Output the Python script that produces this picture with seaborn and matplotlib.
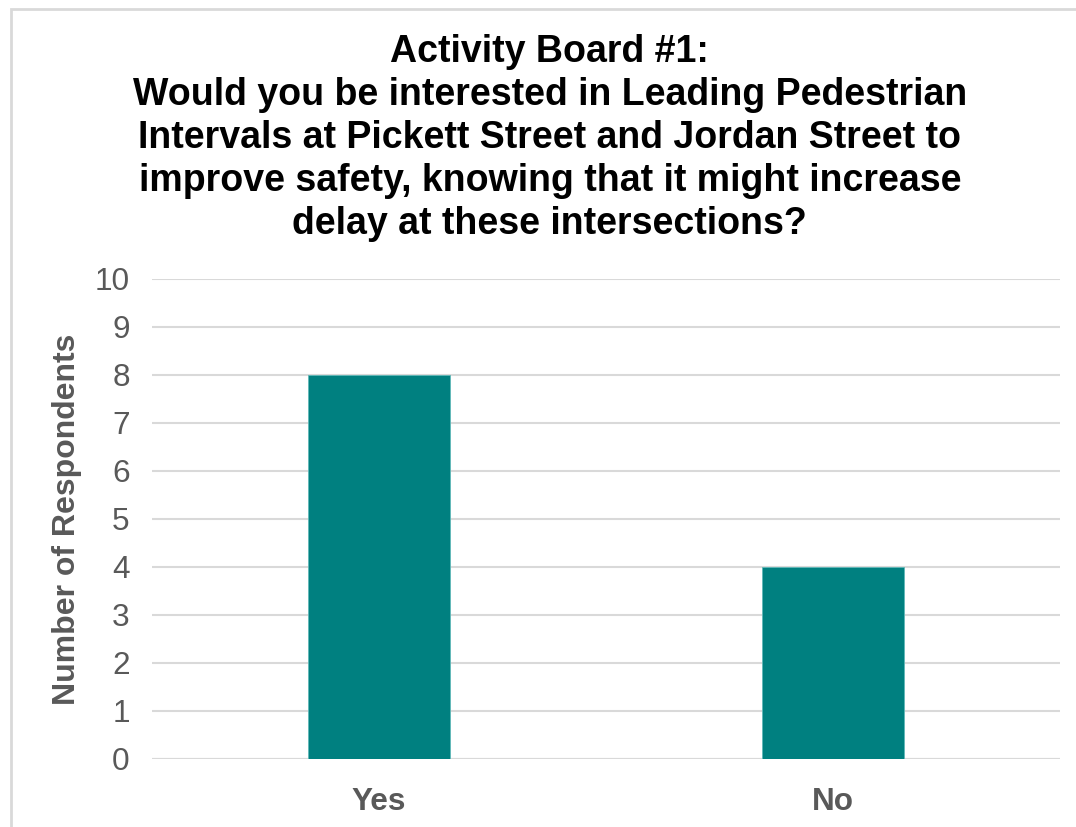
import matplotlib
matplotlib.use("Agg")
import matplotlib.pyplot as plt
from matplotlib.patches import Rectangle
import seaborn as sns
import pandas as pd

# chart data
answers = ["Yes", "No"]
respondents = [8, 4]
y_ticks = list(range(0, 11))

title = ("Activity Board #1:\n"
         "Would you be interested in Leading Pedestrian\n"
         "Intervals at Pickett Street and Jordan Street to\n"
         "improve safety, knowing that it might increase\n"
         "delay at these intersections?")

sns.set_theme(style="white")
plt.rcParams['font.family'] = ['Liberation Sans', 'DejaVu Sans']

df = pd.DataFrame({"answer": answers, "count": respondents})

fig = plt.figure(figsize=(10.76, 8.27), dpi=100)
ax = fig.add_axes([152/1076, 1 - 759/827, (1060 - 152)/1076, (759 - 279)/827])

sns.barplot(data=df, x="answer", y="count", color="#008080", width=0.313,
            saturation=1, edgecolor="#5fb8b8", linewidth=0.6, ax=ax, zorder=3)

ax.set_xlim(-0.5, 1.5)
ax.set_ylim(0, 10)
ax.set_yticks(y_ticks)
ax.yaxis.grid(True, color="#d9d9d9", linewidth=1.5, zorder=0)
ax.xaxis.grid(False)
for s in ax.spines.values():
    s.set_visible(False)
ax.axhline(0, color="#d9d9d9", linewidth=1.5, zorder=1)

ax.tick_params(axis="y", labelsize=22.7, labelcolor="#595959", length=0, pad=16)
ax.tick_params(axis="x", labelsize=22.7, labelcolor="#595959", length=0, pad=20)
for lbl in ax.get_xticklabels():
    lbl.set_fontweight("bold")
ax.set_xlabel("")
ax.set_ylabel("Number of Respondents", fontsize=23, fontweight="bold",
              color="#595959", labelpad=9)

fig.text(0.511, 1 - 34/827, title, ha="center", va="top", fontsize=27,
         fontweight="bold", color="black", linespacing=1.25)

# chart frame
fig.patches.append(Rectangle((11/1076, -0.02), 1.05, 1.02 - 9/827,
                             transform=fig.transFigure, fill=False,
                             edgecolor="#d9d9d9", linewidth=2, zorder=0))

fig.savefig("out.png", dpi=100, facecolor="white")
